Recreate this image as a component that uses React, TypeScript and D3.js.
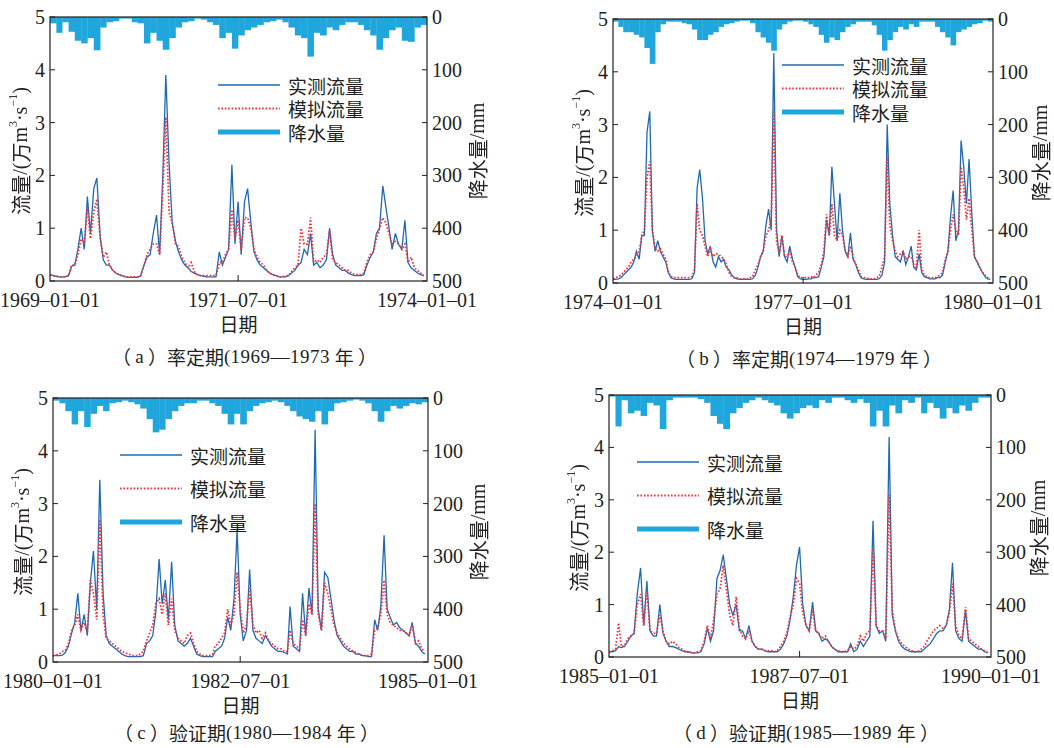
import React from 'react';
import * as d3 from 'd3';

// semi-monthly flow, 万m³/s (1st and 16th of each month)
const obsA = [
  0.12,0.10, 0.09,0.08, 0.08,0.08, 0.10,0.28, 0.30,0.60, 1.00,0.60, 1.60,0.90, 1.75,1.95, 0.85,0.40, 0.30,0.30, 0.20,0.15, 0.12,0.10,
  0.08,0.07, 0.07,0.07, 0.07,0.10, 0.30,0.45, 0.50,0.90, 1.25,0.50, 1.95,3.90, 2.20,1.10, 0.75,0.55, 0.40,0.30, 0.25,0.18, 0.15,0.12,
  0.10,0.09, 0.08,0.08, 0.08,0.08, 0.55,0.30, 0.45,0.60, 2.20,0.70, 1.50,0.50, 1.50,1.75, 1.10,0.55, 0.40,0.30, 0.25,0.20, 0.15,0.12,
  0.10,0.08, 0.08,0.08, 0.10,0.15, 0.20,0.30, 0.35,0.60, 0.50,0.90, 0.30,0.35, 0.25,0.30, 0.40,1.00, 0.50,0.30, 0.25,0.20, 0.20,0.15,
  0.12,0.10, 0.10,0.10, 0.12,0.30, 0.45,0.55, 0.90,1.00, 1.80,1.40, 1.00,0.60, 0.90,0.70, 0.60,1.15, 0.35,0.25, 0.20,0.15, 0.12,0.10,
];
const simA = [
  0.12,0.10, 0.09,0.08, 0.08,0.08, 0.10,0.30, 0.30,0.50, 0.80,0.70, 1.40,0.80, 1.30,1.55, 0.80,0.45, 0.55,0.30, 0.20,0.15, 0.12,0.10,
  0.08,0.08, 0.08,0.08, 0.08,0.10, 0.30,0.50, 0.60,0.70, 0.70,0.50, 1.70,3.10, 1.30,1.10, 0.70,0.65, 0.45,0.35, 0.25,0.35, 0.18,0.12,
  0.10,0.10, 0.10,0.10, 0.10,0.10, 0.35,0.35, 0.50,0.60, 1.35,0.80, 1.15,0.60, 1.20,1.20, 1.00,0.60, 0.45,0.35, 0.30,0.20, 0.15,0.12,
  0.10,0.08, 0.08,0.10, 0.10,0.18, 0.25,0.30, 1.00,0.70, 0.70,1.20, 0.35,0.40, 0.35,0.45, 0.50,0.95, 0.40,0.35, 0.30,0.25, 0.20,0.20,
  0.15,0.12, 0.12,0.12, 0.15,0.35, 0.50,0.55, 0.80,1.00, 1.20,1.10, 0.90,0.70, 0.75,0.70, 0.60,0.70, 0.35,0.45, 0.25,0.20, 0.15,0.10,
];
// monthly rainfall, mm
const rainA = [
  12,30,10,28,45,50,40,63,20,10,8,3,
  3,10,12,50,30,45,62,40,20,10,8,3,
  5,10,15,40,30,60,35,25,20,15,10,8,
  5,10,20,35,40,75,30,35,20,25,15,10,
  10,15,25,35,62,40,25,20,45,47,20,15,
];

const obsB = [
  0.07,0.07, 0.08,0.10, 0.15,0.20, 0.25,0.30, 0.40,0.60, 0.45,0.90, 0.90,2.85, 3.25,1.00, 0.60,0.80, 0.60,0.50, 0.40,0.20, 0.10,0.08,
  0.07,0.07, 0.07,0.07, 0.07,0.07, 0.08,0.20, 1.80,2.15, 1.60,0.80, 0.55,0.70, 0.40,0.30, 0.50,0.40, 0.45,0.30, 0.25,0.15, 0.10,0.08,
  0.07,0.07, 0.07,0.07, 0.07,0.08, 0.15,0.30, 0.50,0.60, 1.10,1.40, 1.00,4.35, 1.00,0.50, 0.90,0.50, 0.40,0.70, 0.45,0.30, 0.12,0.08,
  0.07,0.07, 0.08,0.08, 0.10,0.10, 0.12,0.30, 0.50,1.20, 0.90,2.20, 1.50,0.80, 1.70,1.00, 0.60,0.50, 0.95,0.45, 0.35,0.20, 0.10,0.08,
  0.07,0.07, 0.07,0.07, 0.07,0.08, 0.15,0.40, 3.00,1.50, 0.90,0.50, 0.45,0.40, 0.60,0.35, 0.50,0.70, 0.30,0.25, 0.55,0.20, 0.12,0.10,
  0.08,0.08, 0.08,0.10, 0.10,0.15, 0.40,0.60, 1.25,1.75, 0.80,1.00, 2.70,2.20, 1.50,2.35, 1.30,0.50, 0.40,0.30, 0.20,0.12, 0.08,0.07,
];
const simB = [
  0.08,0.10, 0.12,0.15, 0.20,0.25, 0.30,0.40, 0.45,0.50, 0.60,0.90, 1.00,2.00, 2.30,1.00, 0.65,0.60, 0.65,0.55, 0.45,0.20, 0.12,0.10,
  0.10,0.10, 0.10,0.10, 0.10,0.10, 0.12,0.25, 1.50,1.00, 0.90,0.70, 0.50,0.65, 0.50,0.55, 0.55,0.50, 0.45,0.35, 0.20,0.12, 0.10,0.10,
  0.08,0.08, 0.08,0.08, 0.10,0.12, 0.25,0.35, 0.50,0.60, 0.90,1.00, 1.20,3.30, 0.80,0.55, 0.90,0.50, 0.50,0.60, 0.40,0.30, 0.15,0.10,
  0.10,0.10, 0.10,0.12, 0.10,0.15, 0.20,0.35, 0.60,1.30, 0.90,1.50, 0.90,0.80, 1.00,0.90, 0.60,0.50, 0.70,0.50, 0.35,0.25, 0.12,0.10,
  0.10,0.08, 0.08,0.08, 0.10,0.12, 0.30,0.50, 2.40,1.10, 0.80,0.60, 0.50,0.55, 0.60,0.45, 0.50,0.50, 0.35,0.30, 1.00,0.25, 0.15,0.12,
  0.10,0.10, 0.10,0.12, 0.15,0.20, 0.45,0.60, 1.00,1.30, 1.00,0.90, 2.20,1.80, 1.20,1.60, 1.00,0.50, 0.40,0.30, 0.20,0.15, 0.10,0.08,
];
const rainB = [
  5,15,25,25,30,35,55,85,25,10,5,5,
  5,8,10,20,40,40,30,25,15,10,8,5,
  3,3,8,25,35,45,60,20,10,5,3,3,
  5,10,15,30,45,35,40,25,15,10,5,5,
  5,12,30,60,40,25,15,20,10,15,5,5,
  5,15,25,35,50,25,20,15,10,8,3,5,
];

const obsC = [
  0.12,0.12, 0.12,0.13, 0.18,0.30, 0.55,0.75, 1.30,0.60, 0.90,0.50, 1.50,2.10, 1.00,3.45, 1.30,0.50, 0.35,0.30, 0.25,0.20, 0.15,0.12,
  0.10,0.10, 0.10,0.10, 0.10,0.12, 0.35,0.40, 0.50,0.95, 1.95,1.10, 1.55,0.80, 1.90,0.70, 0.40,0.35, 0.30,0.35, 0.45,0.30, 0.15,0.12,
  0.10,0.10, 0.10,0.10, 0.20,0.25, 0.30,0.45, 0.85,0.60, 1.20,2.50, 0.90,0.40, 0.60,1.75, 0.60,0.45, 0.40,0.35, 0.50,0.40, 0.30,0.25,
  0.20,0.20, 0.18,0.15, 1.05,0.30, 0.25,0.20, 1.30,0.50, 1.40,0.90, 4.40,1.00, 0.60,1.70, 1.60,1.20, 0.80,0.50, 0.40,0.30, 0.25,0.20,
  0.20,0.15, 0.15,0.12, 0.12,0.10, 0.10,0.80, 0.60,1.05, 2.40,1.00, 0.85,0.70, 0.75,0.65, 0.60,0.55, 0.50,0.75, 0.35,0.30, 0.20,0.15,
];
const simC = [
  0.12,0.14, 0.15,0.20, 0.22,0.35, 0.60,0.70, 0.90,0.60, 0.75,0.55, 1.55,1.30, 0.80,2.70, 0.90,0.45, 0.40,0.35, 0.30,0.25, 0.20,0.18,
  0.15,0.13, 0.12,0.12, 0.15,0.20, 0.40,0.55, 0.70,1.10, 1.20,0.90, 1.30,0.70, 1.20,0.60, 0.45,0.40, 0.35,0.50, 0.55,0.35, 0.20,0.15,
  0.12,0.12, 0.12,0.15, 0.30,0.35, 0.45,0.55, 1.00,0.70, 0.90,1.70, 1.00,0.55, 0.70,1.40, 0.70,0.55, 0.60,0.45, 0.55,0.40, 0.35,0.30,
  0.25,0.25, 0.20,0.20, 0.60,0.35, 0.30,0.25, 0.80,0.50, 1.10,0.90, 3.00,0.90, 0.60,1.50, 1.30,1.00, 0.70,0.55, 0.45,0.35, 0.30,0.25,
  0.20,0.18, 0.15,0.12, 0.12,0.12, 0.15,0.60, 0.65,0.90, 1.55,0.90, 0.75,0.70, 0.65,0.60, 0.60,0.55, 0.50,0.70, 0.35,0.40, 0.25,0.20,
];
const rainC = [
  5,10,25,50,25,55,30,15,25,10,8,5,
  8,12,20,40,65,60,40,25,15,10,10,5,
  5,10,15,30,50,30,50,25,15,10,8,5,
  8,15,25,35,40,45,25,50,25,10,8,5,
  3,5,10,25,45,25,15,20,15,10,12,8,
];

const obsD = [
  0.10,0.10, 0.12,0.20, 0.18,0.20, 0.30,0.40, 0.45,1.20, 1.70,0.60, 1.45,0.50, 0.40,0.40, 1.00,0.45, 0.30,0.20, 0.20,0.18, 0.15,0.12,
  0.10,0.10, 0.08,0.08, 0.08,0.10, 0.25,0.55, 0.30,0.50, 1.50,1.65, 1.95,1.50, 1.00,0.80, 1.00,0.50, 0.50,0.35, 0.60,0.30, 0.20,0.15,
  0.15,0.12, 0.10,0.10, 0.10,0.10, 0.15,0.25, 0.40,0.70, 1.15,1.75, 2.10,1.00, 0.60,0.50, 1.05,0.50, 0.45,0.30, 0.35,0.30, 0.20,0.15,
  0.10,0.10, 0.10,0.10, 0.25,0.10, 0.15,0.30, 0.20,0.30, 0.40,2.60, 0.60,0.45, 0.50,0.30, 4.20,0.80, 0.50,0.30, 0.20,0.15, 0.12,0.10,
  0.10,0.10, 0.10,0.15, 0.20,0.25, 0.35,0.45, 0.50,0.50, 0.60,0.90, 1.80,0.50, 0.35,0.30, 0.90,0.30, 0.25,0.20, 0.15,0.15, 0.10,0.08,
];
const simD = [
  0.10,0.12, 0.15,0.65, 0.20,0.22, 0.35,0.40, 0.45,1.00, 1.20,0.60, 1.30,0.50, 0.45,0.45, 0.80,0.50, 0.30,0.25, 0.30,0.25, 0.18,0.15,
  0.10,0.10, 0.08,0.08, 0.10,0.12, 0.30,0.60, 0.35,0.70, 1.20,1.30, 1.75,1.30, 0.80,0.60, 1.15,0.55, 0.40,0.35, 0.50,0.30, 0.20,0.15,
  0.15,0.12, 0.12,0.12, 0.10,0.12, 0.20,0.30, 0.45,0.75, 1.00,1.50, 1.40,0.85, 0.60,0.50, 0.90,0.50, 0.45,0.35, 0.40,0.30, 0.20,0.15,
  0.12,0.10, 0.10,0.12, 0.20,0.15, 0.20,0.40, 0.30,0.45, 0.50,2.10, 0.60,0.50, 0.50,0.35, 3.10,0.90, 0.50,0.35, 0.25,0.20, 0.15,0.12,
  0.10,0.10, 0.15,0.20, 0.30,0.40, 0.50,0.55, 0.60,0.55, 0.60,0.85, 1.40,0.60, 0.40,0.35, 0.95,0.35, 0.30,0.25, 0.20,0.15, 0.12,0.10,
];
const rainD = [
  3,60,10,35,30,40,15,20,65,10,5,5,
  5,5,8,15,40,55,65,35,25,15,10,5,
  10,15,20,35,45,35,25,20,25,10,15,5,
  5,10,15,8,15,60,30,60,20,35,10,15,
  5,35,15,25,45,25,35,20,30,15,5,5,
];

const flowTicks = [0, 1, 2, 3, 4, 5];
const rainTicks = [0, 100, 200, 300, 400, 500];
const legendLabels = ['实测流量', '模拟流量', '降水量'];

const OBS = '#1f68b4';
const SIM = '#f0343c';
const RAIN = '#1fa6dd';
const INK = '#231f20';
const LATIN = "'Liberation Serif', 'Times New Roman', 'Noto Sans CJK SC', serif";
const CJK = "'Noto Sans CJK SC', sans-serif";

const panels = [
  { key: 'a', obs: obsA, sim: simA, rain: rainA, start: 1969, years: 5,
    xLabels: ['1969–01–01', '1971–07–01', '1974–01–01'], mid: [1971, 6],
    tag: 'a', period: '率定期', span: '1969—1973',
    box: { l: 50, r: 427, t: 17, b: 281 }, leftT: 20, rightT: 477, legend: { x: 218, y: 85 } },
  { key: 'b', obs: obsB, sim: simB, rain: rainB, start: 1974, years: 6,
    xLabels: ['1974–01–01', '1977–01–01', '1980–01–01'], mid: [1977, 0],
    tag: 'b', period: '率定期', span: '1974—1979',
    box: { l: 613, r: 993, t: 19, b: 283 }, leftT: 583, rightT: 1040, legend: { x: 782, y: 65 } },
  { key: 'c', obs: obsC, sim: simC, rain: rainC, start: 1980, years: 5,
    xLabels: ['1980–01–01', '1982–07–01', '1985–01–01'], mid: [1982, 6],
    tag: 'c', period: '验证期', span: '1980—1984',
    box: { l: 53, r: 428, t: 398, b: 662 }, leftT: 22, rightT: 478, legend: { x: 120, y: 455 } },
  { key: 'd', obs: obsD, sim: simD, rain: rainD, start: 1985, years: 5,
    xLabels: ['1985–01–01', '1987–07–01', '1990–01–01'], mid: [1987, 6],
    tag: 'd', period: '验证期', span: '1985—1989',
    box: { l: 609, r: 991, t: 395, b: 657 }, leftT: 578, rightT: 1038, legend: { x: 637, y: 462 } },
];

const Panel = ({ p }) => {
  const { l, r, t, b } = p.box;
  const x = d3.scaleTime()
    .domain([new Date(p.start, 0, 1), new Date(p.start + p.years, 0, 1)])
    .range([l, r]);
  const y = d3.scaleLinear().domain([0, 5]).range([b, t]);
  const yr = d3.scaleLinear().domain([0, 500]).range([t, b]);
  const dateAt = (k) => new Date(p.start, Math.floor(k / 2), k % 2 ? 16 : 1);
  const line = d3.line().x((d, i) => x(dateAt(i))).y(d => y(d));
  const cx = (l + r) / 2;
  const clip = `clip-${p.key}`;
  const lg = p.legend;
  const rowGap = p.key === 'a' || p.key === 'b' ? 23.5 : 33.5;
  const midX = x(new Date(p.mid[0], p.mid[1], 1));
  const capY = Math.min(b + 75, 732);

  return (
    <g>
      <defs>
        <clipPath id={clip}><rect x={l} y={t} width={r - l} height={b - t} /></clipPath>
      </defs>
      <g clipPath={`url(#${clip})`}>
        {p.rain.map((v, i) => {
          const x0 = x(new Date(p.start, i, 1));
          const x1 = x(new Date(p.start, i + 1, 1));
          return <rect key={i} x={x0} y={t} width={x1 - x0 + 0.3} height={yr(v) - t} fill={RAIN} />;
        })}
        <path d={line(p.obs)} fill="none" stroke={OBS} strokeWidth={1.3} />
        <path d={line(p.sim)} fill="none" stroke={SIM} strokeWidth={1.8} strokeDasharray="1.6 1.8" />
      </g>
      <rect x={l} y={t} width={r - l} height={b - t} fill="none" stroke={INK} strokeWidth={1.2} />
      {flowTicks.map(v => (
        <g key={'f' + v}>
          <line x1={l} x2={l + 5} y1={y(v)} y2={y(v)} stroke={INK} />
          <text x={l - 5} y={y(v)} textAnchor="end" dominantBaseline="central"
            fontFamily={LATIN} fontSize={20} fill={INK}>{v}</text>
        </g>
      ))}
      {rainTicks.map(v => (
        <g key={'r' + v}>
          <line x1={r - 5} x2={r} y1={yr(v)} y2={yr(v)} stroke={INK} />
          <text x={r + 5} y={yr(v)} textAnchor="start" dominantBaseline="central"
            fontFamily={LATIN} fontSize={20} fill={INK}>{v}</text>
        </g>
      ))}
      <line x1={midX} x2={midX} y1={b} y2={b - 6} stroke={INK} />
      {[l, midX, r].map((xx, i) => (
        <text key={'x' + i} x={xx} y={b + 19} textAnchor="middle" dominantBaseline="central"
          fontFamily={LATIN} fontSize={20} fill={INK}>{p.xLabels[i]}</text>
      ))}
      <text x={cx} y={b + 42} textAnchor="middle" dominantBaseline="central"
        fontFamily={CJK} fontSize={19} fill={INK}>日期</text>
      <text x={cx + 6} y={capY} textAnchor="middle" dominantBaseline="central"
        fontFamily={LATIN} fontSize={19} fill={INK}>
        <tspan fontFamily={CJK}>（ </tspan>{p.tag}<tspan fontFamily={CJK}> ）{p.period}</tspan>
        (<tspan letterSpacing={0.5}>{p.span}</tspan> <tspan fontFamily={CJK}>年 ）</tspan>
      </text>
      <g opacity={0.99}>
        <text transform={`translate(${p.leftT},${(t + b) / 2 + 2}) rotate(-90)`} textAnchor="middle"
          dominantBaseline="central" fontFamily={LATIN} fontSize={20} fill={INK}>
          <tspan fontFamily={CJK}>流量</tspan>/(<tspan fontFamily={CJK}>万</tspan>m
          <tspan fontSize={12} dy={-7}>3</tspan><tspan dy={7}>·s</tspan>
          <tspan fontSize={12} dy={-7}>−1</tspan><tspan dy={7}>)</tspan>
        </text>
        <text transform={`translate(${p.rightT},${(t + b) / 2 + 2}) rotate(-90)`} textAnchor="middle"
          dominantBaseline="central" fontFamily={LATIN} fontSize={20} fill={INK}>
          <tspan fontFamily={CJK}>降水量</tspan>/mm
        </text>
      </g>
      <g>
        <line x1={lg.x} x2={lg.x + 62} y1={lg.y} y2={lg.y} stroke={OBS} strokeWidth={1.3} />
        <line x1={lg.x} x2={lg.x + 62} y1={lg.y + rowGap} y2={lg.y + rowGap} stroke={SIM}
          strokeWidth={1.8} strokeDasharray="1.6 1.8" />
        <line x1={lg.x} x2={lg.x + 62} y1={lg.y + 2 * rowGap} y2={lg.y + 2 * rowGap} stroke={RAIN}
          strokeWidth={5} />
        {legendLabels.map((s, i) => (
          <text key={s} x={lg.x + 70} y={lg.y + i * rowGap} dominantBaseline="central"
            fontFamily={CJK} fontSize={19} fill={INK}>{s}</text>
        ))}
      </g>
    </g>
  );
};

export default function App() {
  return (
    <svg width={1054} height={748} style={{ position: 'absolute', left: 0, top: 0, background: '#fff' }}>
      {panels.map(p => <Panel key={p.key} p={p} />)}
    </svg>
  );
}
